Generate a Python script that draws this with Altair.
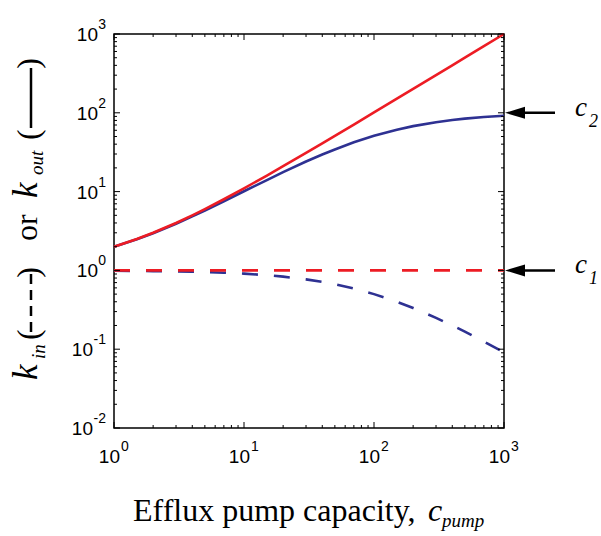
import altair as alt
import pandas as pd

# ---- data ----
c_pump = [1, 1.5, 2, 3, 4, 5, 7, 10, 15, 20, 30, 40, 50, 70, 100, 150, 200, 300, 400, 500, 700, 1000]
kout_red = [2, 2.5, 3, 4, 5, 6, 8, 11, 16, 21, 31, 41, 51, 71, 101, 151, 201, 301, 401, 501, 701, 1000]
kout_blue = [1.99, 2.48, 2.96, 3.91, 4.85, 5.76, 7.54, 10.1, 14.0, 17.7, 24.1, 29.6, 34.3, 42.2, 51,
             61, 67.7, 76, 81, 84.3, 88.5, 91.9]
kin_red = [1, 1, 1, 1, 1, 1, 1, 1, 1, 1, 1, 1, 1, 1, 1, 1, 1, 1, 1, 1, 1, 1]
kin_blue = [0.99, 0.985, 0.98, 0.971, 0.962, 0.952, 0.935, 0.909, 0.87, 0.833, 0.769, 0.714, 0.667,
            0.588, 0.5, 0.4, 0.333, 0.25, 0.2, 0.167, 0.125, 0.091]

x_major = [1, 10, 100, 1000]
x_exp = ["0", "1", "2", "3"]
y_major = [0.01, 0.1, 1, 10, 100, 1000]
y_exp = ["-2", "-1", "0", "1", "2", "3"]
minor_mult = [2, 3, 4, 5, 6, 7, 8, 9]

arrow_vals = [100, 1]
arrow_sub = ["2", "1"]

RED = "#ED1C24"
BLUE = "#2E3192"
W, H = 390, 394

xs = alt.Scale(type="log", domain=[1, 1000], nice=False)
ys = alt.Scale(type="log", domain=[0.01, 1000], nice=False)

curves = pd.DataFrame({"c": c_pump, "kout_red": kout_red, "kout_blue": kout_blue,
                       "kin_red": kin_red, "kin_blue": kin_blue})


def line(col, color, dash=None):
    kw = dict(color=color, strokeWidth=2.6, strokeCap="butt")
    if dash:
        kw["strokeDash"] = dash
    return alt.Chart(curves).mark_line(**kw).encode(
        x=alt.X("c:Q", scale=xs, axis=None),
        y=alt.Y(col + ":Q", scale=ys, axis=None),
        order=alt.Order("c:Q"),
    )


layers = [
    line("kin_blue", BLUE, [16, 16]),
    line("kin_red", RED, [16, 16]),
    line("kout_blue", BLUE),
    line("kout_red", RED),
]

x_minor = [m * d for d in x_major[:-1] for m in minor_mult]
y_minor = [m * d for d in y_major[:-1] for m in minor_mult]


def xticks(vals, L):
    df = pd.DataFrame({"v": vals})
    base = alt.Chart(df).mark_rule(color="black", strokeWidth=1)
    enc = dict(x=alt.X("v:Q", scale=xs, axis=None))
    return [base.encode(y=alt.value(H), y2=alt.value(H - L), **enc),
            base.encode(y=alt.value(0), y2=alt.value(L), **enc)]


def yticks(vals, L):
    df = pd.DataFrame({"v": vals})
    base = alt.Chart(df).mark_rule(color="black", strokeWidth=1)
    enc = dict(y=alt.Y("v:Q", scale=ys, axis=None))
    return [base.encode(x=alt.value(0), x2=alt.value(L), **enc),
            base.encode(x=alt.value(W), x2=alt.value(W - L), **enc)]


layers += xticks(x_major, 6) + xticks(x_minor, 3) + yticks(y_major, 6) + yticks(y_minor, 3)

# ---- tick labels ----
SANS = "Liberation Sans"
xl = pd.DataFrame({"v": x_major, "e": x_exp})
layers.append(alt.Chart(xl).mark_text(text="10", font=SANS, fontSize=19, align="right",
                                      baseline="alphabetic", dx=6).encode(
    x=alt.X("v:Q", scale=xs, axis=None), y=alt.value(H + 35)))
layers.append(alt.Chart(xl).mark_text(font=SANS, fontSize=14, align="left",
                                      baseline="alphabetic", dx=7).encode(
    x=alt.X("v:Q", scale=xs, axis=None), y=alt.value(H + 23), text="e:N"))

yl = pd.DataFrame({"v": y_major, "e": y_exp})
layers.append(alt.Chart(yl).mark_text(font=SANS, fontSize=14, align="right",
                                      baseline="alphabetic", dy=-5).encode(
    y=alt.Y("v:Q", scale=ys, axis=None), x=alt.value(-8), text="e:N"))
layers.append(alt.Chart(yl).transform_filter("datum.v < 1").mark_text(
    text="10", font=SANS, fontSize=19, align="right", baseline="alphabetic", dy=7).encode(
    y=alt.Y("v:Q", scale=ys, axis=None), x=alt.value(-21)))
layers.append(alt.Chart(yl).transform_filter("datum.v >= 1").mark_text(
    text="10", font=SANS, fontSize=19, align="right", baseline="alphabetic", dy=7).encode(
    y=alt.Y("v:Q", scale=ys, axis=None), x=alt.value(-16)))

# ---- arrows with c1 / c2 ----
ar = pd.DataFrame({"v": arrow_vals, "s": arrow_sub})
layers.append(alt.Chart(ar).mark_rule(color="black", strokeWidth=2.5).encode(
    y=alt.Y("v:Q", scale=ys, axis=None), x=alt.value(408), x2=alt.value(441)))
layers.append(alt.Chart(ar).mark_point(shape="M -1 0 L 1 -0.6 L 1 0.6 Z", filled=True, size=400,
                                       color="black", opacity=1).encode(
    y=alt.Y("v:Q", scale=ys, axis=None), x=alt.value(401)))
SERIF = "Liberation Serif"
layers.append(alt.Chart(ar).mark_text(text="c", font=SERIF, fontStyle="italic", fontSize=27,
                                      align="left", baseline="alphabetic", dy=3).encode(
    y=alt.Y("v:Q", scale=ys, axis=None), x=alt.value(461)))
layers.append(alt.Chart(ar).mark_text(font=SERIF, fontStyle="italic", fontSize=18,
                                      align="left", baseline="alphabetic", dy=14).encode(
    y=alt.Y("v:Q", scale=ys, axis=None), x=alt.value(475), text="s:N"))


# ---- titles ----
def txt(s, x, y, size, italic=False, angle=0, align="left"):
    return alt.Chart(alt.Data(values=[{"a": 1}])).mark_text(
        text=s, font=SERIF, fontSize=size, fontStyle="italic" if italic else "normal",
        angle=angle, align=align, baseline="alphabetic", color="black").encode(
        x=alt.value(x), y=alt.value(y))


def seg(x, y1, y2, dash=None):
    kw = dict(color="black", strokeWidth=2.5, strokeCap="butt")
    if dash:
        kw["strokeDash"] = dash
    return alt.Chart(alt.Data(values=[{"a": 1}])).mark_rule(**kw).encode(
        x=alt.value(x), y=alt.value(y1), y2=alt.value(y2))


layers += [
    txt("Efflux pump capacity,", 19, 487, 32),
    txt("c", 314, 487, 32, italic=True),
    txt("pump", 328, 493, 19, italic=True),
    # y title, reading bottom to top
    txt("k", -77, 346, 35, italic=True, angle=270),
    txt("in", -69, 325, 19, italic=True, angle=270),
    txt("(", -75, 306, 32, angle=270),
    seg(-83, 298, 240, [10, 6]),
    txt(")", -75, 233, 32, angle=270, align="right"),
    txt("or", -77, 207, 32, angle=270),
    txt("k", -77, 164, 35, italic=True, angle=270),
    txt("out", -71, 141, 19, italic=True, angle=270),
    txt("(", -75, 106, 32, angle=270),
    seg(-83, 94, 34),
    txt(")", -75, 24, 32, angle=270, align="right"),
]

chart = alt.layer(*layers).properties(
    width=W, height=H,
    autosize=alt.AutoSizeParams(type="none"),
    padding={"left": 114, "top": 34, "right": 97, "bottom": 108},
).configure_view(stroke="black", strokeWidth=1.5)

chart.save("out.html", embed_options={"renderer": "svg", "actions": False})
